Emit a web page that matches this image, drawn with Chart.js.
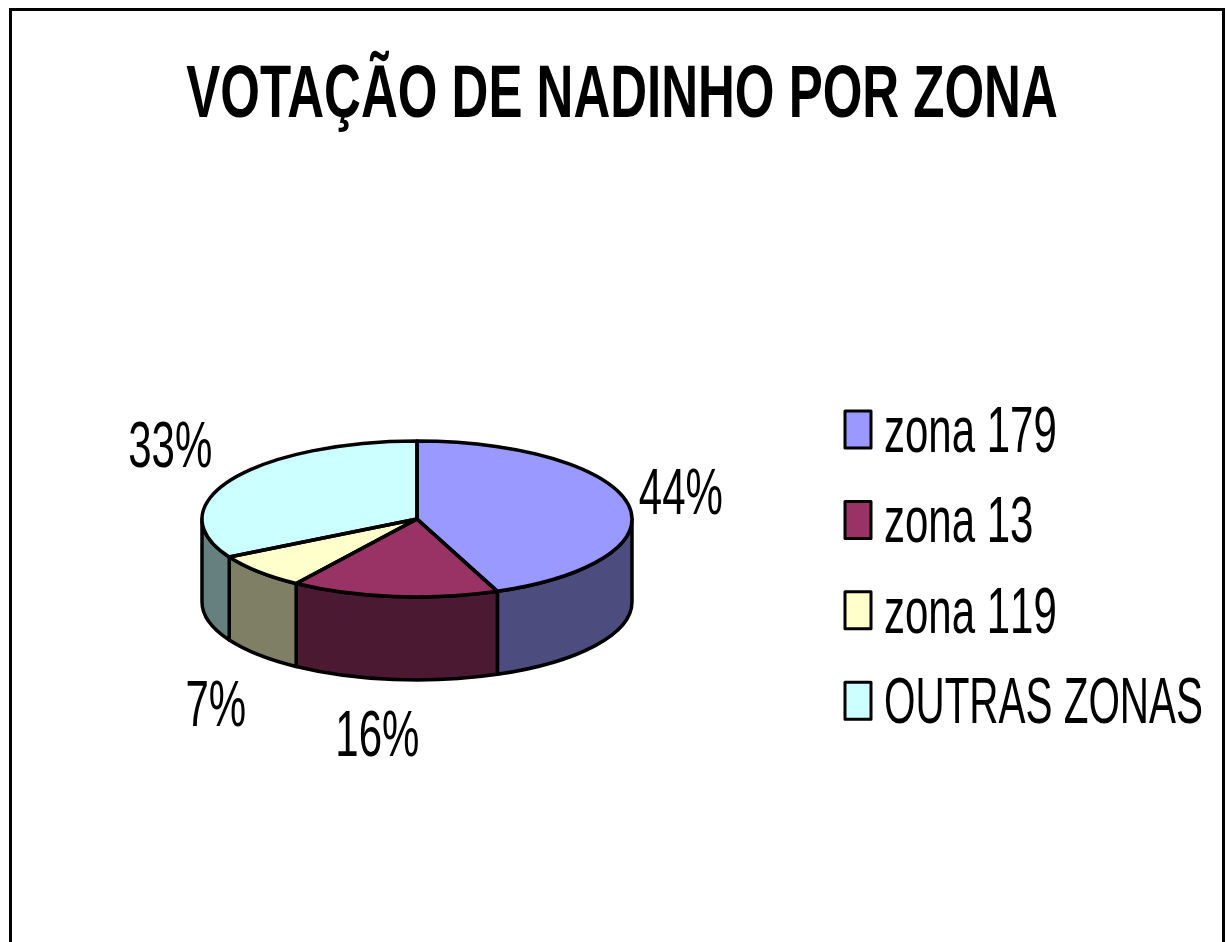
<!DOCTYPE html>
<html>
<head>
<meta charset="utf-8">
<title>Votação de Nadinho por zona</title>
<script src="https://cdn.jsdelivr.net/npm/chart.js@4"></script>
<style>
  html, body { margin: 0; padding: 0; background: #fff; overflow: hidden; }
  canvas { display: block; }
</style>
</head>
<body>
<canvas id="chart" width="1227" height="942"></canvas>
<script>
const chartTitle = "VOTAÇÃO DE NADINHO POR ZONA";
const zones = ["zona 179", "zona 13", "zona 119", "OUTRAS ZONAS"];
const votes = [43.9, 15.6, 7.4, 33.1];
const zoneColors = ["#9999FF", "#993366", "#FFFFCC", "#CCFFFF"];

const tilt = 78 / 215;
const depth = 83;
const lineWidth = 3.5;
const narrowFont = '64px "Liberation Sans"';
const narrowScale = 0.656;
const titleScale = 0.689;
const titleCenter = 622;
// small shifts from the computed label anchor, same order as the slices
const labelNudge = [[0, -7], [-11, 36], [-3, 37], [-15, -24]];
// the long legend entry is a bit tighter in the original
const legendFit = [1, 1, 1, 0.963];

function halfShade(hex) {
  const n = parseInt(hex.slice(1), 16);
  const r = (n >> 16) >> 1, g = ((n >> 8) & 255) >> 1, b = (n & 255) >> 1;
  return `rgb(${r}, ${g}, ${b})`;
}

function narrowText(ctx, text, x, y, align, fit = 1) {
  ctx.save();
  ctx.translate(x, y);
  ctx.scale(narrowScale * fit, 1);
  ctx.font = narrowFont;
  ctx.fontKerning = "none";
  ctx.fillStyle = "#000";
  ctx.textAlign = align;
  ctx.textBaseline = "alphabetic";
  ctx.fillText(text, 0, 0);
  ctx.restore();
}

const piePlugin = {
  id: "pie3d",
  afterLayout(chart) {
    // the title is centred on the frame, not on the pie, and squeezed like the other text
    const title = chart.titleBlock;
    title.left = titleCenter - 1000;
    title.right = titleCenter + 1000;
    const drawTitle = title.draw;
    title.draw = function () {
      const ctx = chart.ctx;
      ctx.save();
      ctx.translate(titleCenter, 0);
      ctx.scale(titleScale, 1);
      ctx.translate(-titleCenter, 0);
      drawTitle.call(title);
      ctx.restore();
    };
  },
  beforeDraw(chart) {
    const ctx = chart.ctx;
    ctx.save();
    ctx.fillStyle = "#fff";
    ctx.fillRect(0, 0, chart.width, chart.height);
    ctx.strokeStyle = "#000";
    ctx.lineWidth = 3;
    ctx.strokeRect(10.5, 9.5, 1213, 1000);
    ctx.restore();
  },
  beforeDatasetsDraw(chart) {
    const ctx = chart.ctx;
    const arcs = chart.getDatasetMeta(0).data;
    ctx.save();
    ctx.lineWidth = lineWidth;
    ctx.lineJoin = "round";
    ctx.strokeStyle = "#000";
    arcs.forEach((arc, i) => {
      // only the front half of the rim can be seen
      const a0 = Math.max(arc.startAngle, 0);
      const a1 = Math.min(arc.endAngle, Math.PI);
      if (a1 <= a0) return;
      const rx = arc.outerRadius, ry = rx * tilt;
      ctx.beginPath();
      ctx.ellipse(arc.x, arc.y, rx, ry, 0, a0, a1);
      ctx.ellipse(arc.x, arc.y + depth, rx, ry, 0, a1, a0, true);
      ctx.closePath();
      ctx.fillStyle = halfShade(zoneColors[i]);
      ctx.fill();
      ctx.stroke();
    });
    ctx.restore();
    // squash the library's round pie into the top face
    const first = arcs[0];
    ctx.save();
    ctx.translate(first.x, first.y);
    ctx.scale(1, tilt);
    ctx.translate(-first.x, -first.y);
  },
  afterDatasetsDraw(chart) {
    const ctx = chart.ctx;
    ctx.restore();
    const arcs = chart.getDatasetMeta(0).data;
    ctx.save();
    ctx.lineWidth = lineWidth;
    ctx.lineJoin = "round";
    ctx.strokeStyle = "#000";
    arcs.forEach((arc) => {
      const rx = arc.outerRadius, ry = rx * tilt;
      ctx.beginPath();
      ctx.moveTo(arc.x, arc.y);
      ctx.ellipse(arc.x, arc.y, rx, ry, 0, arc.startAngle, arc.endAngle);
      ctx.closePath();
      ctx.stroke();
    });
    ctx.restore();

    // percent labels
    const total = votes.reduce((a, b) => a + b, 0);
    arcs.forEach((arc, i) => {
      const mid = (arc.startAngle + arc.endAngle) / 2;
      const rx = arc.outerRadius, ry = rx * tilt;
      const x = arc.x + 1.25 * rx * Math.cos(mid) + labelNudge[i][0];
      const y = arc.y + 1.25 * ry * Math.sin(mid) + (Math.sin(mid) > 0 ? depth : 0) + labelNudge[i][1];
      narrowText(ctx, Math.round(votes[i] / total * 100) + "%", x, y + 21, "center");
    });

    // legend
    ctx.save();
    zones.forEach((zone, i) => {
      const top = 411 + i * 90.4;
      ctx.fillStyle = zoneColors[i];
      ctx.strokeStyle = "#000";
      ctx.lineWidth = 3;
      ctx.lineJoin = "round";
      ctx.fillRect(845, top, 26, 37);
      ctx.strokeRect(845, top, 26, 37);
      narrowText(ctx, zone, 884, top + 41, "left", legendFit[i]);
    });
    ctx.restore();
  },
};

new Chart(document.getElementById("chart"), {
  type: "pie",
  data: {
    labels: zones,
    datasets: [
      {
        data: votes,
        backgroundColor: zoneColors,
        borderWidth: 0,
      },
    ],
  },
  options: {
    responsive: false,
    animation: false,
    events: [],
    layout: { padding: { left: 202, right: 595, top: 0, bottom: 208 } },
    plugins: {
      legend: { display: false },
      tooltip: { enabled: false },
      title: {
        display: true,
        text: chartTitle,
        color: "#000",
        font: { family: '"Liberation Sans"', weight: "bold", size: 74, lineHeight: 1.2 },
        padding: { top: 52, bottom: 163.2 },
      },
    },
  },
  plugins: [piePlugin],
});
</script>
</body>
</html>
